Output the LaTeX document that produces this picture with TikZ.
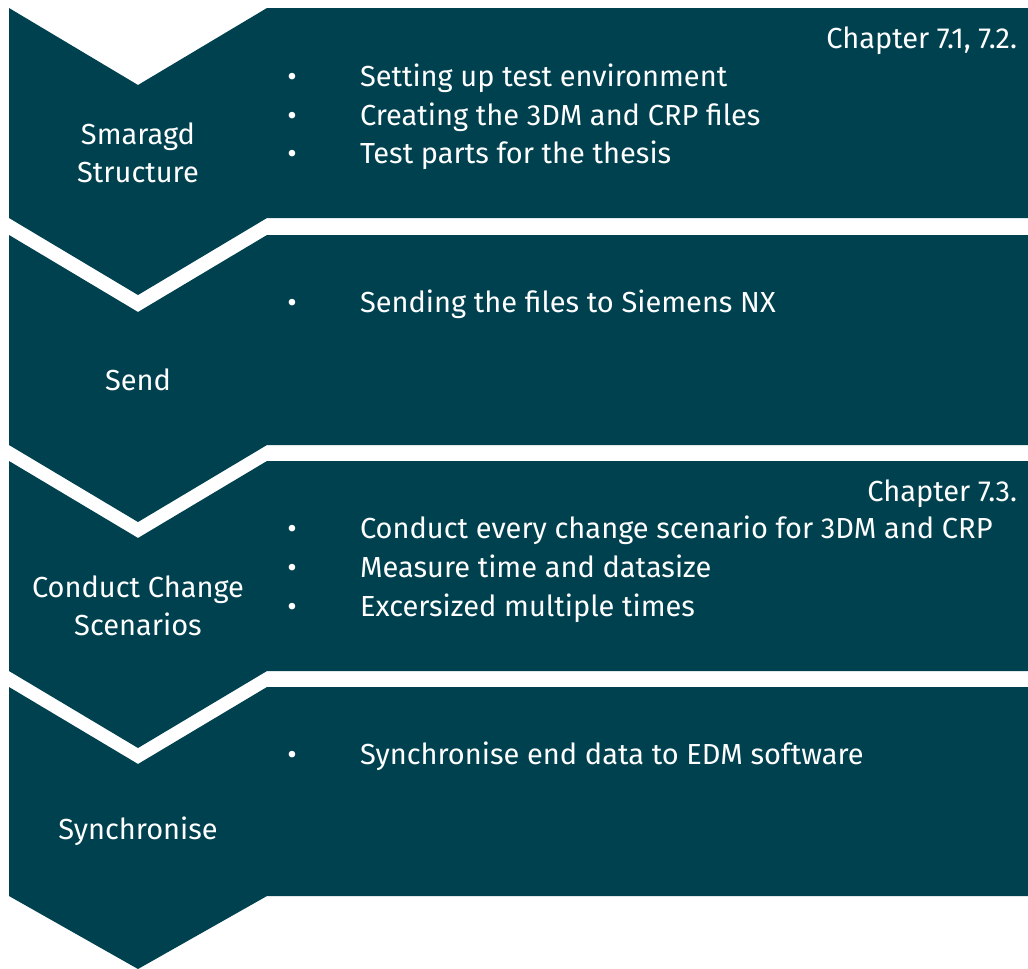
\documentclass[tikz,border=0pt]{standalone}
\usepackage{fontspec}
\setmainfont{Fira Sans}
\definecolor{SMcolStep}{HTML}{004150}
\usepackage{tikz}

\begin{document}
\begin{tikzpicture}[x=1pt, y=1pt, yscale=-1, inner sep=0pt, outer sep=0pt,
  stepshape/.style={fill=SMcolStep, draw=none},
  steplabel/.style={text=white, align=center, anchor=center,
    font=\fontsize{29}{38.5}\selectfont},
  bulletmark/.style={text=white, anchor=base, font=\fontsize{29}{30}\selectfont},
  itemtext/.style={text=white, anchor=base west, font=\fontsize{29}{30}\selectfont},
  chaptertext/.style={text=white, anchor=base east, font=\fontsize{29}{30}\selectfont}]
  \useasboundingbox (0,0) rectangle (1028,969);
  % step shapes: chevron on the left, box on the right
  \path[stepshape] (9,8) -- (138,85) -- (267,8) -- (1028,8) -- (1028,218) --
    (267,218) -- (138,295) -- (9,218) -- cycle;
  \path[stepshape] (9,235) -- (138,312) -- (267,235) -- (1028,235) -- (1028,445) --
    (267,445) -- (138,522) -- (9,445) -- cycle;
  \path[stepshape] (9,461) -- (138,538) -- (267,461) -- (1028,461) -- (1028,671) --
    (267,671) -- (138,748) -- (9,671) -- cycle;
  \path[stepshape] (9,687) -- (138,764) -- (267,687) -- (1028,687) -- (1028,896) --
    (267,896) -- (138,969) -- (9,896) -- cycle;
  % step names
  \node[steplabel] (smaragd) at (138,153) {Smaragd\\Structure};
  \node[steplabel] (send) at (138,380) {Send};
  \node[steplabel] (conduct) at (138,606) {Conduct Change\\Scenarios};
  \node[steplabel] (sync) at (138,831) {Synchronise};
  % step contents
  \node[chaptertext] (chapA) at (1017,48) {Chapter 7.1, 7.2.};
  \node[bulletmark] (bulA1) at (292,86) {•};
  \node[itemtext] (itemA1) at (360,86) {Setting up test environment};
  \node[bulletmark] (bulA2) at (292,125) {•};
  \node[itemtext] (itemA2) at (360,125) {Creating the 3DM and CRP files};
  \node[bulletmark] (bulA3) at (292,163) {•};
  \node[itemtext] (itemA3) at (360,163) {Test parts for the thesis};
  \node[bulletmark] (bulB1) at (292,312) {•};
  \node[itemtext] (itemB1) at (360,312) {Sending the files to Siemens NX};
  \node[chaptertext] (chapC) at (1017,501) {Chapter 7.3.};
  \node[bulletmark] (bulC1) at (292,538) {•};
  \node[itemtext] (itemC1) at (360,538) {Conduct every change scenario for 3DM and CRP};
  \node[bulletmark] (bulC2) at (292,577) {•};
  \node[itemtext] (itemC2) at (360,577) {Measure time and datasize};
  \node[bulletmark] (bulC3) at (292,616) {•};
  \node[itemtext] (itemC3) at (360,616) {Excersized multiple times};
  \node[bulletmark] (bulD1) at (292,764) {•};
  \node[itemtext] (itemD1) at (360,764) {Synchronise end data to EDM software};
\end{tikzpicture}
\end{document}
